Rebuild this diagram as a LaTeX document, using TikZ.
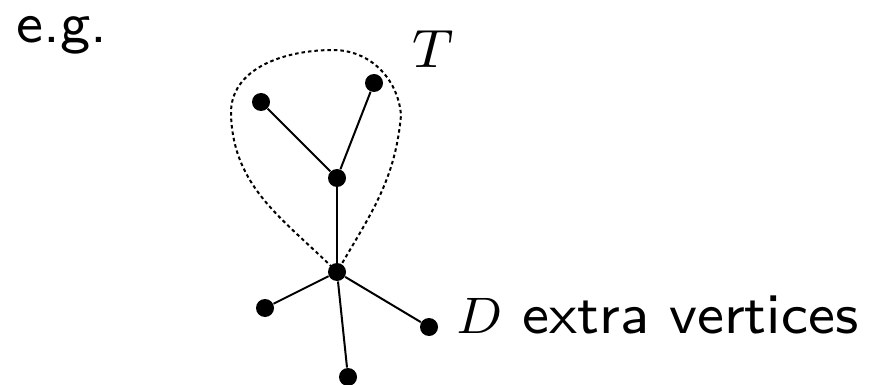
\documentclass[tikz,border=0pt]{standalone}
\usepackage{tikz}
\usetikzlibrary{positioning}

\begin{document}
\begin{tikzpicture}[
    x=0.4pt, y=-0.4pt,
    every node/.style={font=\fontsize{8}{10}\selectfont\sffamily},
    vertex/.style={circle, fill=black, inner sep=0pt, minimum size=7.2pt},
    edge/.style={line width=0.8pt},
    treeloop/.style={line width=0.8pt, dash pattern=on 1.4pt off 1.2pt},
    sanslabel/.style={anchor=base west, inner sep=0pt, scale=2.85, transform shape},
    mathlabel/.style={anchor=base west, inner sep=0pt, scale=2.7, transform shape}
]
  \useasboundingbox (0,0) rectangle (890,385);

  \node[sanslabel] (eg) at (15,43) {e.g.};

  % the tree T
  \node[vertex] (leafl) at (261,102) {};
  \node[vertex] (leafr) at (374,83) {};
  \node[vertex] (mid) at (337,178) {};
  \node[vertex] (root) at (337,272) {};

  % extra vertices
  \node[vertex] (extl) at (265,308) {};
  \node[vertex] (extr) at (429,327) {};
  \node[vertex] (extb) at (348,377) {};

  \draw[edge] (mid) -- (leafl);
  \draw[edge] (mid) -- (leafr);
  \draw[edge] (mid) -- (root);
  \draw[edge] (root) -- (extl);
  \draw[edge] (root) -- (extr);
  \draw[edge] (root) -- (extb);

  \draw[treeloop] (root.center) to[out=135,in=272] (231,115)
    to[out=92,in=180] (333,50) to[out=0,in=95] (401,115)
    to[out=265,in=60] (root.center);

  \node[mathlabel] (tlabel) at (411,68) {$T$};
  \node[sanslabel] (dlabel) at (455,333) {\scalebox{0.9}{$D$} extra vertices};
\end{tikzpicture}
\end{document}
